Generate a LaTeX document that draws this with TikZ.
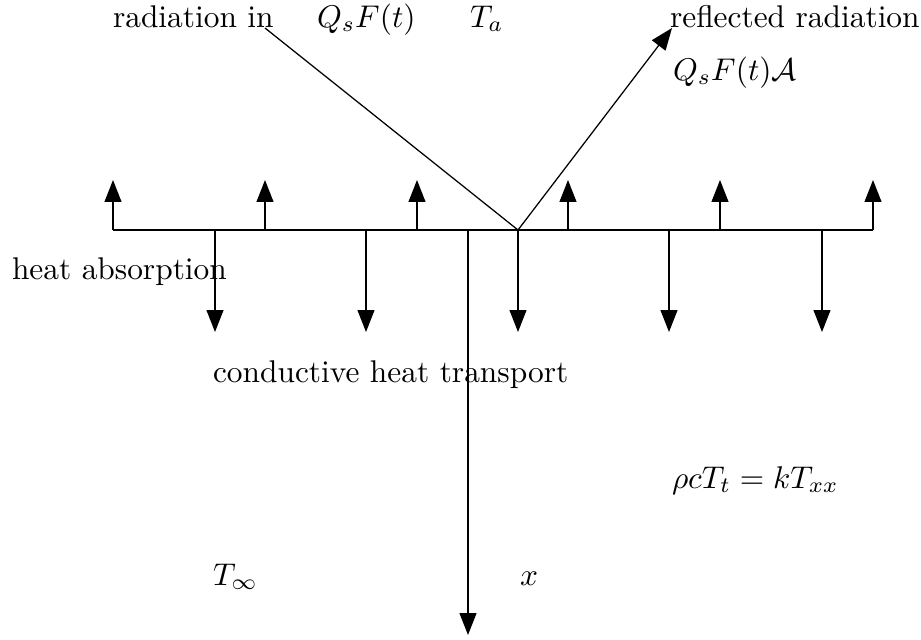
\documentclass[tikz,border=0pt]{standalone}
\usetikzlibrary{arrows.meta}
\begin{document}
\begin{tikzpicture}[x=0.3185pt,y=-0.3185pt,
  ln/.style={line width=0.4pt},
  arr/.style={line width=0.4pt,-{Triangle[length=7pt,width=5.4pt]}},
  lbl/.style={anchor=base west,inner sep=0pt,outer sep=0pt}]
\useasboundingbox (0,0) rectangle (921,639);
% surface
\coordinate (L) at (113,230);
\coordinate (R) at (873,230);
\coordinate (H) at (518,230);
\draw[ln] (L) -- (R);
% upward arrows
\foreach \i/\xx in {1/113,2/265,3/417,4/568,5/720,6/873}{
  \coordinate (ub\i) at (\xx,230);
  \coordinate (ut\i) at (\xx,180);
  \draw[arr] (ub\i) -- (ut\i);
}
% downward arrows
\foreach \i/\xx in {1/215,2/366,3/518,4/669,5/822}{
  \coordinate (db\i) at (\xx,230);
  \coordinate (dt\i) at (\xx,332);
  \draw[arr] (db\i) -- (dt\i);
}
% depth axis
\coordinate (xa) at (468,230);
\coordinate (xb) at (468,635);
\draw[arr] (xa) -- (xb);
% radiation
\coordinate (rin) at (265,28);
\coordinate (rout) at (672,28);
\draw[ln] (rin) -- (H);
\draw[arr] (H) -- (rout);
% labels
\node[lbl] (t1) at (113,27) {radiation in};
\node[lbl] (t2) at (317,27) {$Q_sF(t)$};
\node[lbl] (t3) at (470,27) {$T_a$};
\node[lbl] (t4) at (670,27) {reflected radiation};
\node[lbl] (t5) at (673,80) {$Q_sF(t)\mathcal{A}$};
\node[lbl] (t6) at (12,279) {heat absorption};
\node[lbl] (t7) at (213,382) {conductive heat transport};
\node[lbl] (t8) at (672,488) {$\rho c T_t = k T_{xx}$};
\node[lbl] (t9) at (213,585) {$T_\infty$};
\node[lbl] (t10) at (520,585) {$x$};
\end{tikzpicture}
\end{document}
